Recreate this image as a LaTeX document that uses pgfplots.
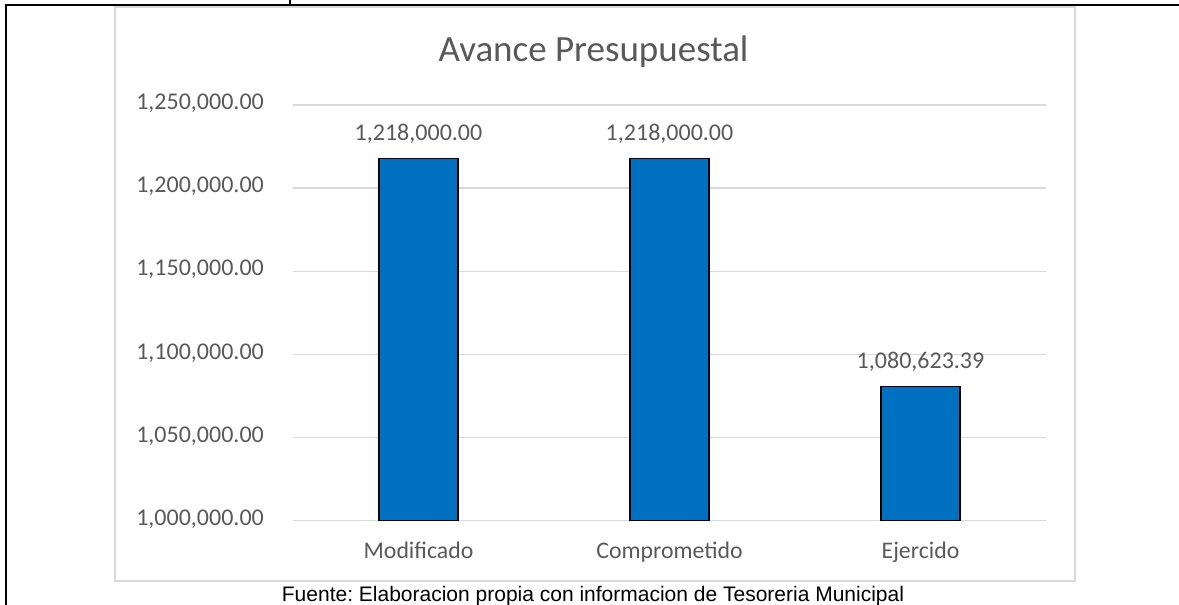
\documentclass[border=0pt]{standalone}
\usepackage{pgfplots}
\pgfplotsset{compat=1.18}
\usepackage{pgfplotstable}
\usepackage{fontspec}
\setmainfont{Carlito}
\newfontfamily\arialfont{Liberation Sans}
\definecolor{barblue}{HTML}{0070C0}
\definecolor{txtgray}{HTML}{595959}
\definecolor{gridgray}{HTML}{D9D9D9}

\pgfplotstableread{
x y lab
0 1218000 1,218,000.00
1 1218000 1,218,000.00
2 1080623.39 1,080,623.39
}\datatable

\begin{document}
\frenchspacing
\begin{tikzpicture}[x=1pt,y=1pt]
\useasboundingbox (0,0) rectangle (1179,605);
% outer table lines
\draw[black,line width=2.6pt] (6,-2) -- (6,600);
\draw[black,line width=2.4pt] (4.7,600) -- (1181,600);
\draw[black,line width=1.5pt] (290,600) -- (290,607);
% chart frame
\draw[gridgray,line width=1.4pt] (115,598) rectangle (1075,24);
% title
\node[anchor=base,inner sep=0pt,font=\fontsize{37}{40}\selectfont,text=txtgray] at (593.5,543) {Avance Presupuestal};
% footer
\node[anchor=base,inner sep=0pt,font=\arialfont\fontsize{21}{24}\selectfont,text=black] at (593,3.3) {Fuente: Elaboracion propia con informacion de Tesoreria Municipal};
\begin{axis}[
  at={(293pt,84.3pt)}, anchor=south west,
  width=753pt, height=415.7pt, scale only axis,
  xmin=-0.5, xmax=2.5,
  ymin=1000000, ymax=1250000,
  scaled y ticks=false,
  axis line style={draw=none},
  major tick length=0pt,
  ymajorgrids, grid style={gridgray,line width=1.4pt},
  xtick={0,1,2},
  xticklabels={Modificado,Comprometido,Ejercido},
  ytick={1000000,1050000,1100000,1150000,1200000,1250000},
  yticklabels={{1,000,000.00},{1,050,000.00},{1,100,000.00},{1,150,000.00},{1,200,000.00},{1,250,000.00}},
  yticklabel style={anchor=east,inner sep=0pt,xshift=-29pt,yshift=-1.5pt,text height=0.63em,text depth=0pt,
    font=\fontsize{24}{27}\selectfont,text=txtgray},
  xticklabel style={anchor=base,inner sep=0pt,yshift=-37.6pt,
    font=\fontsize{23.8}{26}\selectfont,text=txtgray},
  clip=true,
]
\addplot[ybar, bar width=0.315, fill=barblue, draw=black, line width=1.3pt,
  point meta=explicit symbolic,
  nodes near coords={\pgfplotspointmeta},
  every node near coord/.style={anchor=south,inner sep=0pt,text depth=0pt,yshift=17pt,
    font=\fontsize{24}{27}\selectfont,text=txtgray}]
  table[x=x,y=y,meta=lab] {\datatable};
\end{axis}
\end{tikzpicture}
\end{document}
